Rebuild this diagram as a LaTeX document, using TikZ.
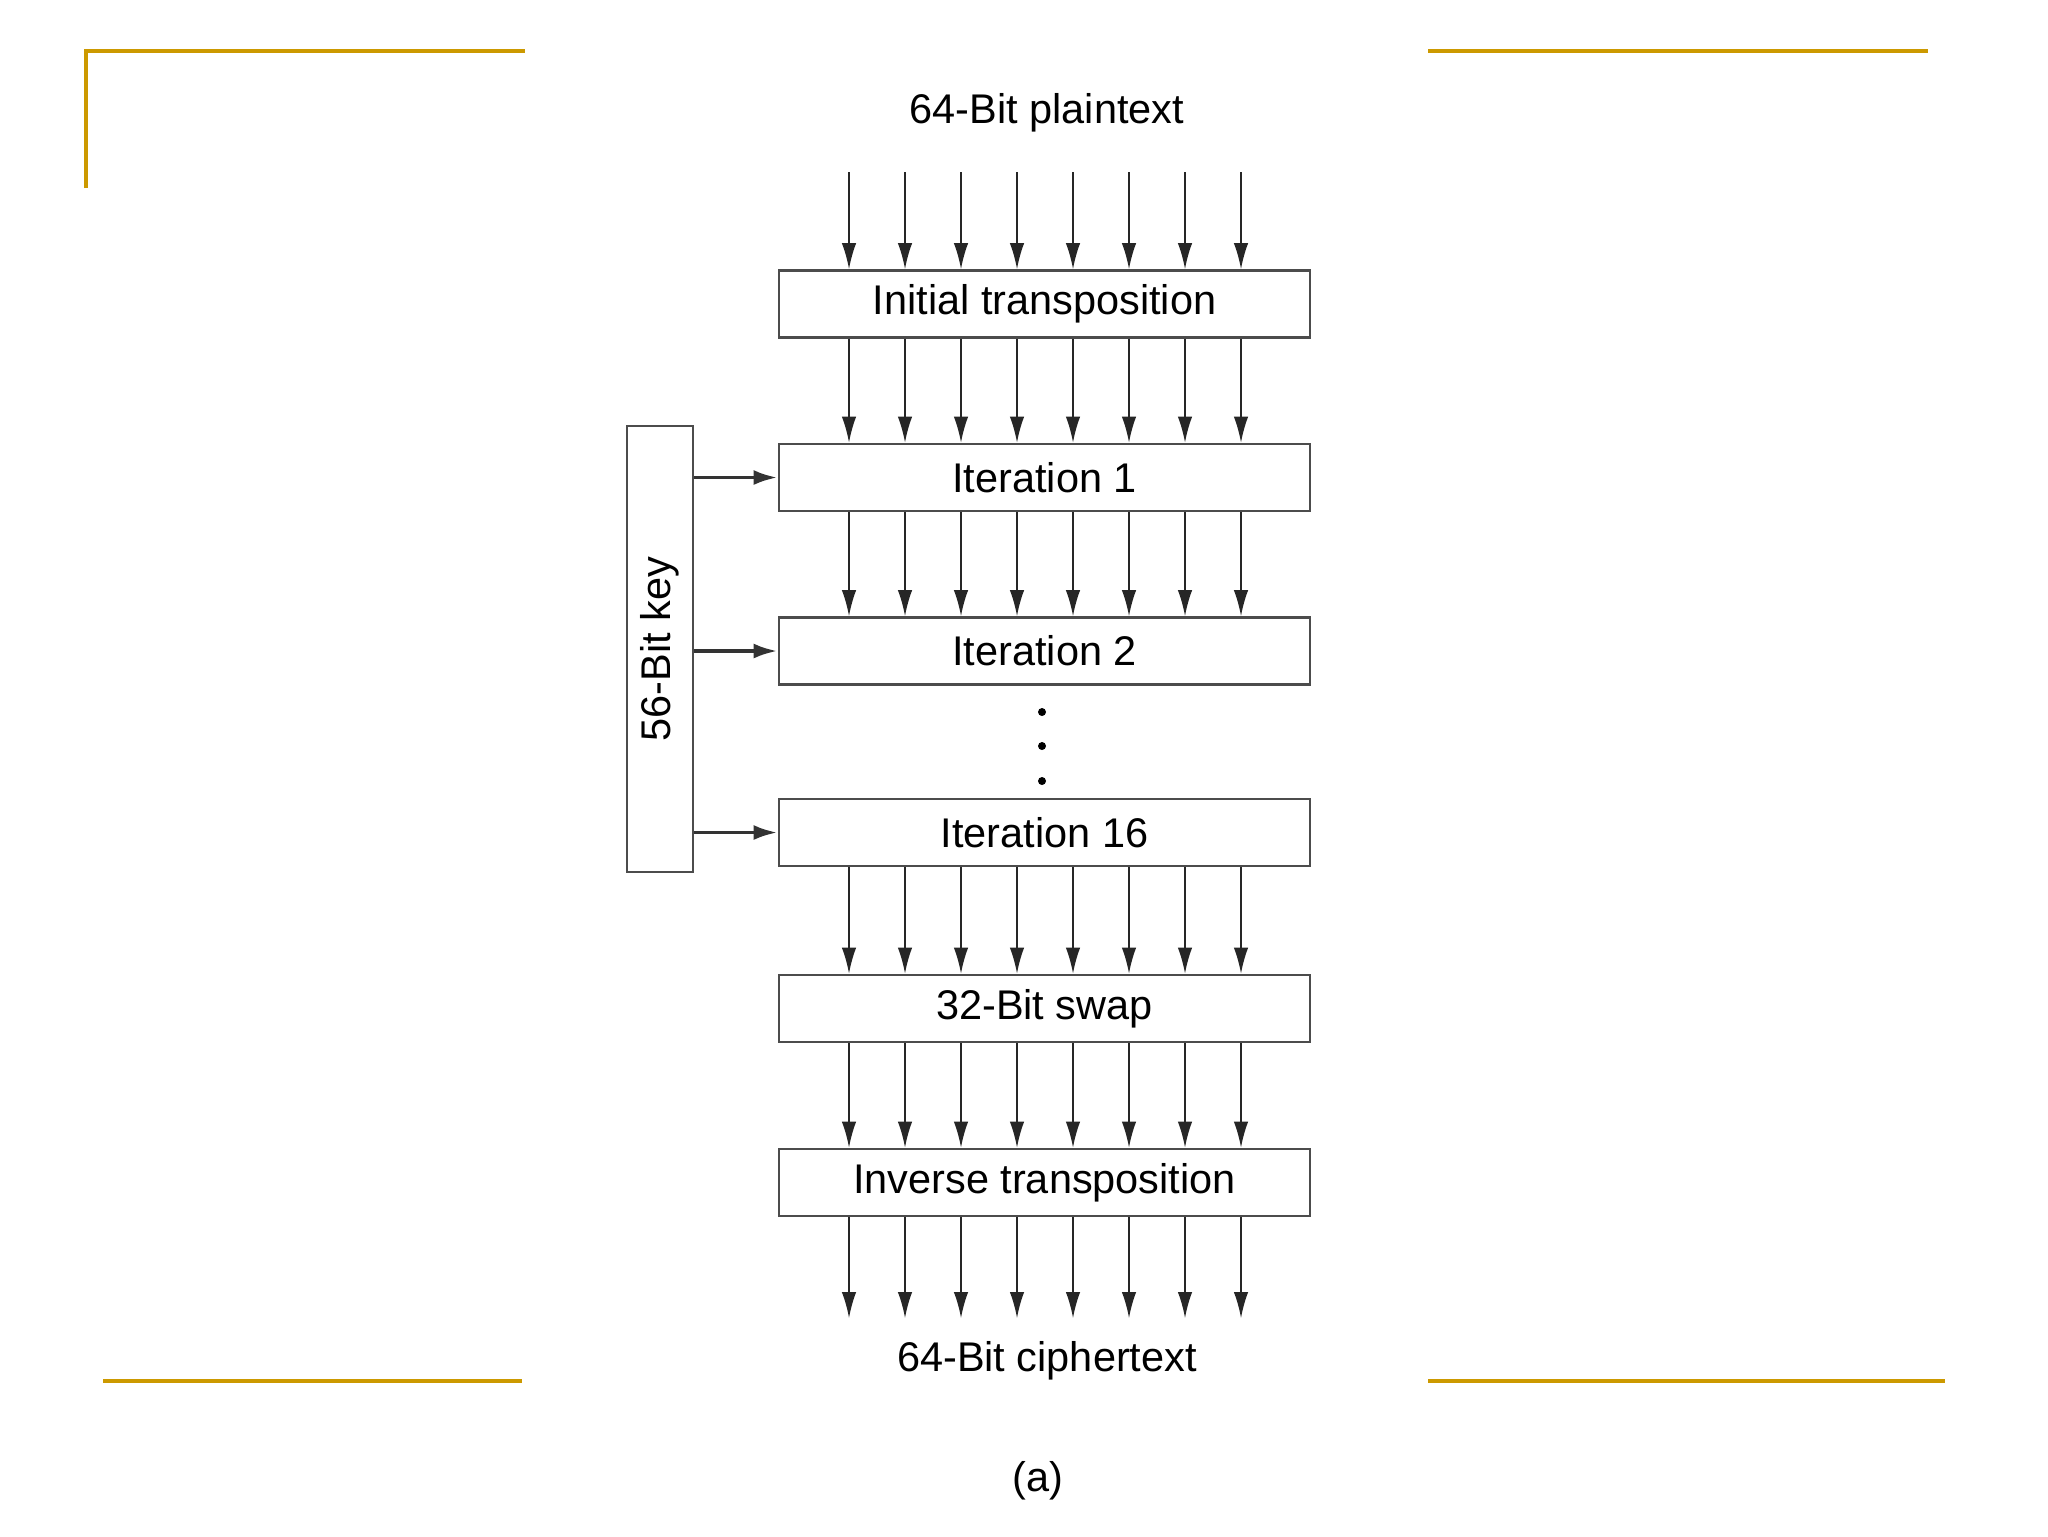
\documentclass[tikz,border=0pt]{standalone}
\usepackage{fontspec}
\setmainfont{Liberation Sans}
\usetikzlibrary{arrows.meta}
\definecolor{gold}{RGB}{204,153,0}
\newcommand{\lowtxt}[1]{\raisebox{-0.35mm}{#1}}
\begin{document}
\begin{tikzpicture}[x=0.1mm,y=-0.1mm,
  blk/.style={draw=black!70, line width=0.8pt, minimum width=53.1mm, minimum height=6.7mm, inner sep=0pt, font=\fontsize{11.8}{14}\selectfont},
  keybox/.style={draw=black!70, line width=0.8pt, minimum width=6.6mm, minimum height=44.6mm, inner sep=0pt},
  arr/.style={draw=black!85, line width=0.45pt, -{Latex[length=2.6mm,width=1.45mm]}},
  karr/.style={draw=black!80, line width=1.1pt, -{Latex[length=2.4mm,width=1.5mm]}},
  lbl/.style={font=\fontsize{11.8}{14}\selectfont, inner sep=0pt},
  deco/.style={draw=gold, line width=1.15pt, line cap=butt},
  dotmark/.style={fill=black, circle, inner sep=0pt, minimum size=0.8mm}]
\useasboundingbox (0,0) rectangle (2048,1536);
% decorative slide lines
\draw[deco] (86,188) -- (86,51) -- (525,51);
\draw[deco] (1428,51) -- (1928,51);
\draw[deco] (103,1381) -- (522,1381);
\draw[deco] (1428,1381) -- (1945,1381);
% labels
\node[lbl] (pt) at (1047,113) {64-Bit plaintext};
\node[lbl] (ct) at (1047,1361) {64-Bit ciphertext};
\node[lbl] (cap) at (1038,1481) {(a)};
% boxes
\node[blk] (init) at (1044.5,304) {\lowtxt{Initial transposition}};
\node[blk] (it1) at (1044.5,477.5) {\lowtxt{Iteration 1}};
\node[blk] (it2) at (1044.5,651) {\lowtxt{Iteration 2}};
\node[blk] (it16) at (1044.5,832.5) {\lowtxt{Iteration 16}};
\node[blk] (swap) at (1044.5,1008.5) {\lowtxt{32-Bit swap}};
\node[blk] (inv) at (1044.5,1182.5) {\lowtxt{Inverse transposition}};
\node[keybox] (key) at (660,649) {};
\node[lbl, rotate=90] (keytxt) at (key.center) {56-Bit key};
% dots
\node[dotmark] (d1) at (1042,712) {};
\node[dotmark] (d2) at (1042,746) {};
\node[dotmark] (d3) at (1042,781) {};
% column arrows
\foreach \i in {0,...,7}{
  \coordinate (c\i) at ({849+56*\i},172);
  \coordinate (e\i) at ({849+56*\i},1318);
  \draw[arr] (c\i) -- (c\i |- init.north);
  \draw[arr] (c\i |- init.south) -- (c\i |- it1.north);
  \draw[arr] (c\i |- it1.south) -- (c\i |- it2.north);
  \draw[arr] (c\i |- it16.south) -- (c\i |- swap.north);
  \draw[arr] (c\i |- swap.south) -- (c\i |- inv.north);
  \draw[arr] (c\i |- inv.south) -- (e\i);
}
% key arrows
\draw[karr] (key.east |- it1.west) -- (it1.west);
\draw[karr] (key.east |- it2.west) -- (it2.west);
\draw[karr] (key.east |- it16.west) -- (it16.west);
\end{tikzpicture}
\end{document}
